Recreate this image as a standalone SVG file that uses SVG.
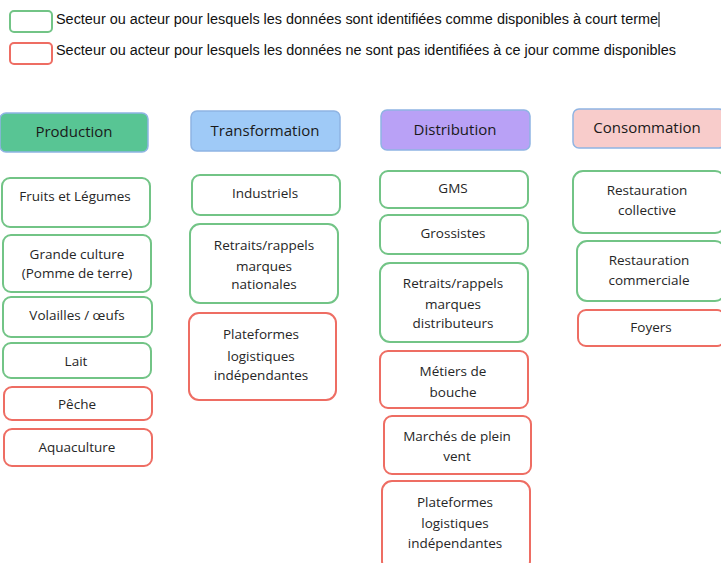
<svg xmlns="http://www.w3.org/2000/svg" width="721" height="563" viewBox="0 0 721 563">
<style>
.bg{fill:#fff}
.g{fill:#fff;stroke:#72c486;stroke-width:2}
.r{fill:#fff;stroke:#ee6d63;stroke-width:2}
.h{stroke:#8fb4e3;stroke-width:1.5}
.t{font-family:"Open Sans","Liberation Sans",sans-serif;font-size:13.5px;fill:#262626;text-anchor:middle}
.ht{font-family:"Open Sans","Liberation Sans",sans-serif;font-size:15px;fill:#1a1a1a;text-anchor:middle}
.lg{font-family:"Liberation Sans",Arial,sans-serif;font-size:14px;fill:#111}
</style>
<rect class="bg" width="721" height="563"/>
<g id="legend">
<rect x="10" y="11" width="42" height="21" rx="4" class="g" stroke-width="1.5"/>
<rect x="10" y="43" width="42" height="21" rx="4" class="r" stroke-width="1.5"/>
<text class="lg" x="56" y="24" textLength="602" lengthAdjust="spacingAndGlyphs">Secteur ou acteur pour lesquels les données sont identifiées comme disponibles à court terme</text>
<line x1="659" y1="12" x2="659" y2="27" stroke="#111" stroke-width="1"/>
<text class="lg" x="56" y="55" textLength="620" lengthAdjust="spacingAndGlyphs">Secteur ou acteur pour lesquels les données ne sont pas identifiées à ce jour comme disponibles</text>
</g>
<g id="h-production"><rect x="0" y="113" width="148" height="39" rx="6" fill="#58c594" class="h"/><text class="ht" x="74" y="137">Production</text></g>
<g id="h-transformation"><rect x="191" y="111" width="149" height="40" rx="6" fill="#9fcaf7" class="h"/><text class="ht" x="265" y="136">Transformation</text></g>
<g id="h-distribution"><rect x="381" y="110" width="149" height="40" rx="6" fill="#b9a1f6" class="h"/><text class="ht" x="455" y="135">Distribution</text></g>
<g id="h-consommation"><rect x="573" y="109" width="152" height="39" rx="6" fill="#f8cccb" class="h"/><text class="ht" x="647" y="133">Consommation</text></g>

<g id="p1"><rect x="2" y="178" width="148" height="49" rx="8" class="g"/><text class="t" x="75" y="201">Fruits et Légumes</text></g>
<g id="p2"><rect x="3" y="235" width="148" height="57" rx="8" class="g"/><text class="t" x="77" y="259">Grande culture</text><text class="t" x="77" y="278">(Pomme de terre)</text></g>
<g id="p3"><rect x="3" y="297" width="149" height="40" rx="8" class="g"/><text class="t" x="77" y="320">Volailles / œufs</text></g>
<g id="p4"><rect x="3" y="343" width="148" height="35" rx="8" class="g"/><text class="t" x="76" y="366">Lait</text></g>
<g id="p5"><rect x="4" y="387" width="148" height="33" rx="8" class="r"/><text class="t" x="77" y="409">Pêche</text></g>
<g id="p6"><rect x="4" y="429" width="148" height="37" rx="8" class="r"/><text class="t" x="77" y="452">Aquaculture</text></g>

<g id="t1"><rect x="192" y="175" width="148" height="40" rx="8" class="g"/><text class="t" x="265" y="198">Industriels</text></g>
<g id="t2"><rect x="190" y="224" width="148" height="79" rx="10" class="g"/><text class="t" x="264" y="250">Retraits/rappels</text><text class="t" x="264" y="271">marques</text><text class="t" x="264" y="289">nationales</text></g>
<g id="t3"><rect x="189" y="313" width="147" height="87" rx="10" class="r"/><text class="t" x="261" y="339">Plateformes</text><text class="t" x="261" y="361">logistiques</text><text class="t" x="261" y="380">indépendantes</text></g>

<g id="d1"><rect x="380" y="171" width="148" height="37" rx="8" class="g"/><text class="t" x="453" y="193">GMS</text></g>
<g id="d2"><rect x="380" y="215" width="148" height="39" rx="8" class="g"/><text class="t" x="453" y="238">Grossistes</text></g>
<g id="d3"><rect x="380" y="263" width="148" height="79" rx="10" class="g"/><text class="t" x="453" y="288">Retraits/rappels</text><text class="t" x="453" y="309">marques</text><text class="t" x="453" y="328">distributeurs</text></g>
<g id="d4"><rect x="380" y="351" width="148" height="57" rx="8" class="r"/><text class="t" x="453" y="376">Métiers de</text><text class="t" x="453" y="397">bouche</text></g>
<g id="d5"><rect x="384" y="416" width="147" height="58" rx="8" class="r"/><text class="t" x="457" y="441">Marchés de plein</text><text class="t" x="457" y="461">vent</text></g>
<g id="d6"><rect x="382" y="481" width="148" height="90" rx="10" class="r"/><text class="t" x="455" y="507">Plateformes</text><text class="t" x="455" y="528">logistiques</text><text class="t" x="455" y="548">indépendantes</text></g>

<g id="c1"><rect x="573" y="171" width="152" height="62" rx="10" class="g"/><text class="t" x="647" y="195">Restauration</text><text class="t" x="647" y="215">collective</text></g>
<g id="c2"><rect x="577" y="241" width="148" height="60" rx="10" class="g"/><text class="t" x="649" y="265">Restauration</text><text class="t" x="649" y="285">commerciale</text></g>
<g id="c3"><rect x="578" y="310" width="147" height="36" rx="8" class="r"/><text class="t" x="651" y="332">Foyers</text></g>
<g id="connectors"/>
</svg>
